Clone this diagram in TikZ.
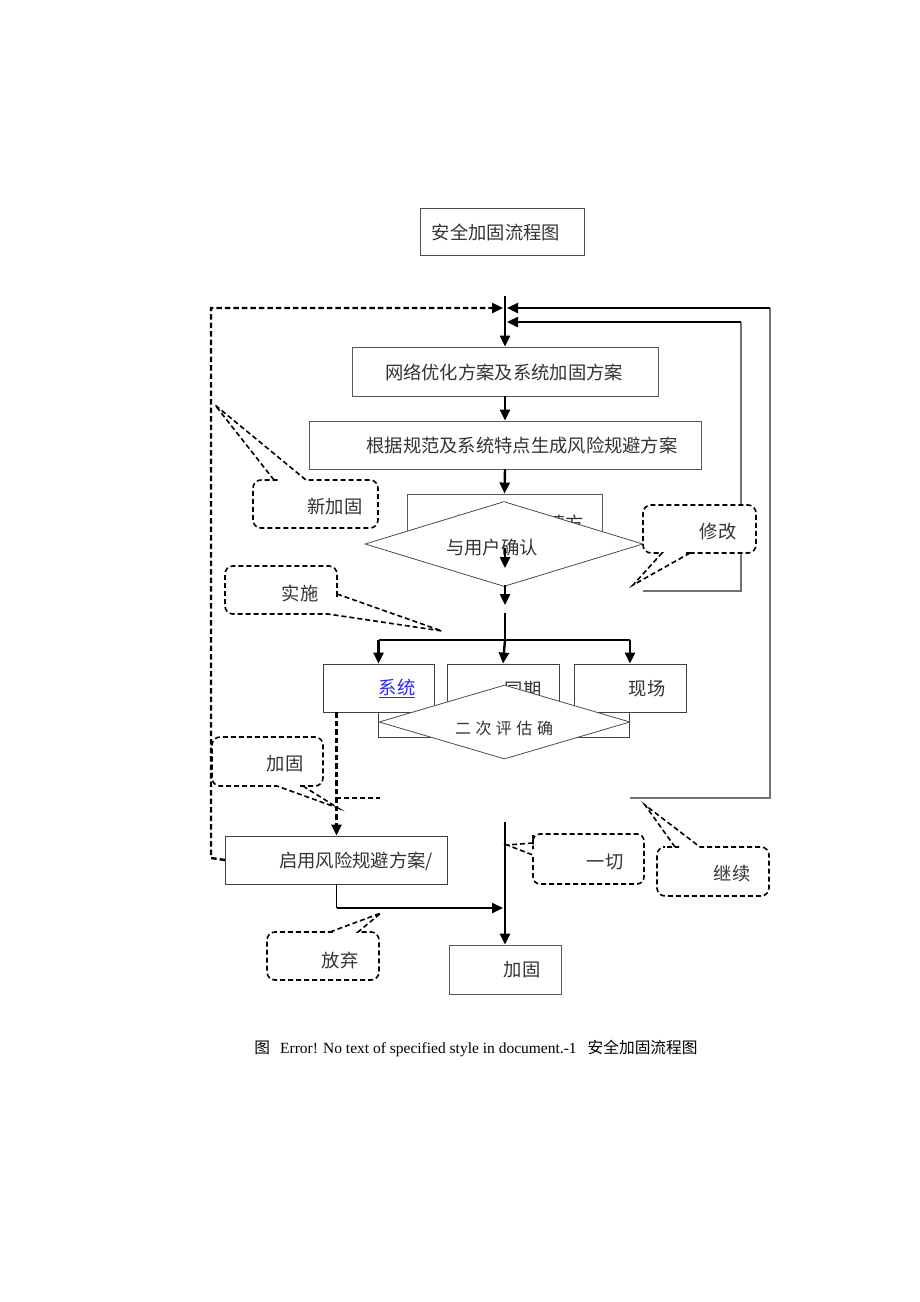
\documentclass[tikz,border=0pt]{standalone}
\usepackage{fontspec}
\setmainfont{Liberation Serif}
\newfontfamily\cjk{Noto Sans CJK SC}
\usetikzlibrary{arrows.meta,shapes.geometric}
\begin{document}
\begin{tikzpicture}[x=1pt,y=-1pt,
  box/.style={draw=black!65, line width=0.9pt, fill=white, inner sep=0pt},
  lbl/.style={font={\cjk\fontsize{18.3}{21}\selectfont}, text=black!80, inner sep=0pt},
  dia/.style={draw=black!70, line width=0.8pt, fill=white, diamond, inner sep=0pt},
  tip/.style={-{Triangle[length=11pt,width=10pt]}},
  thickln/.style={line width=2.4pt, black},
  thickarr/.style={thickln, tip},
  thinln/.style={line width=1.1pt, black!55},
  barln/.style={line width=1.2pt, black},
  dashthick/.style={line width=2.4pt, black, dash pattern=on 5.5pt off 3pt},
  callout/.style={draw=black, line width=1.6pt, dash pattern=on 5pt off 3pt, fill=white}
]
\useasboundingbox (0,0) rectangle (920,1302);

% title
\node[box, draw=black!70, minimum width=164pt, minimum height=47pt] (title) at (502,231.5) {};
\node[lbl] (titlet) at (496,232) {安全加固流程图};

% coordinates of the junction
\coordinate (T) at (505,296);
\coordinate (J1) at (505,308);
\coordinate (J2) at (505,322);

% main boxes
\node[box, minimum width=306pt, minimum height=49pt] (b1) at (505,371.5) {};
\node[lbl] (b1t) at (504,372) {网络优化方案及系统加固方案};
\node[box, minimum width=392pt, minimum height=48pt] (b2) at (505,445) {};
\node[lbl] (b2t) at (522,446) {根据规范及系统特点生成风险规避方案};
\node[box, minimum width=195pt, minimum height=51pt] (b3) at (504.5,519.5) {};
\node[lbl] (b3t) at (520,523) {提交加固申请方};

% first diamond
\node[dia, minimum width=278pt, minimum height=85pt] (d1) at (504,544) {};
\node[lbl] (d1t) at (492,548) {与用户确认};

% outer loops
\draw[thinln] (630,798) -- (770,798) -- (770,308);
\draw[thickarr] (770,308) -- (507,308);
\draw[thinln] (643,591) -- (741,591) -- (741,322);
\draw[thickarr] (741,322) -- (507,322);

% top arrows
\draw[thickarr] (T) -- (b1.north);
\draw[thickarr] (b1.south) -- (b2.north);
\draw[thickarr] (b2.south) -- (b3.north);

% arrows through the diamond
\coordinate (a1s) at (505,548);
\coordinate (a1e) at (505,568);
\coordinate (a2s) at (505,585);
\coordinate (a2e) at (505,605);
\coordinate (a3s) at (505,613);
\coordinate (B) at (505,640);
\draw[thickarr] (a1s) -- (a1e);
\draw[thickarr] (a2s) -- (a2e);
\draw[thickln] (a3s) -- (B);

% three boxes
\node[box, draw=black!75, minimum width=251pt, minimum height=25pt] (bh) at (503.5,724.5) {};
\node[box, draw=black!75, minimum width=111pt, minimum height=48pt] (sys) at (378.5,688) {};
\node[box, draw=black!75, minimum width=112pt, minimum height=48pt] (tq) at (503,688) {};
\node[box, draw=black!75, minimum width=112pt, minimum height=48pt] (xc) at (630,688) {};
\node[lbl, text={rgb,255:red,40;green,40;blue,255}] (syst) at (397,688) {\underline{系统}};
\node[lbl] (tqt) at (523,690) {同期};
\node[lbl] (xct) at (647,689) {现场};

\coordinate (BL) at (sys.north |- B);
\coordinate (BR) at (xc.north |- B);
\draw[barln] (BL) -- (BR);
\draw[thickarr] (BL) -- (sys.north);
\draw[thickarr] (B) -- (tq.north);
\draw[thickarr] (BR) -- (xc.north);

% second diamond
\node[dia, minimum width=251pt, minimum height=74pt] (d2) at (504.5,722) {};
\node[lbl, font={\cjk\fontsize{16}{20}\selectfont}] (d2t) at (504,728) {二\hspace{4.5pt}次\hspace{4.5pt}评\hspace{4.5pt}估\hspace{4.5pt}确};

% lower boxes
\node[box, draw=black!75, minimum width=222pt, minimum height=48pt] (qy) at (336.5,860) {};
\node[lbl] (qyt) at (356,861) {启用风险规避方案/};
\node[box, minimum width=112pt, minimum height=49pt] (jg) at (505,969.5) {};
\node[lbl] (jgt) at (522,970) {加固};

% dashed connectors
\draw[dashthick, tip] (qy.north |- sys.south) -- (qy.north);
\draw[black, line width=1.1pt, dash pattern=on 5pt off 3pt] (336,798) -- (380,798);
\coordinate (L1) at (211,858);
\coordinate (L2) at (211,308);
\draw[dashthick, tip] (qy.west) -- (L1) -- (L2) -- (503,308);

% bottom connectors
\coordinate (C1) at (505,822);
\draw[thickarr] (C1) -- (jg.north);
\coordinate (Q1) at (qy.south |- 0,908);
\draw[line width=1.1pt, black] (qy.south) -- (Q1);
\draw[thickarr] (Q1) -- (503,908);

% callouts
\draw[callout] (274,480) -- (215,405) -- (306,480) -- (310,480) [rounded corners=8pt] -- (378,480) -- (378,528) -- (253,528) -- (253,480) -- (270,480) [sharp corners] -- (274,480) -- cycle;
\node[lbl] (c1) at (335,507) {新加固};

\draw[callout] (690,553) -- (633,585) -- (662,553) -- (658,553) [rounded corners=8pt] -- (643,553) -- (643,505) -- (756,505) -- (756,553) -- (694,553) [sharp corners] -- (690,553) -- cycle;
\node[lbl] (c2) at (718,532) {修改};

\draw[callout] (337,594) -- (442,631) -- (328,614) -- (324,614) [rounded corners=8pt] -- (225,614) -- (225,566) -- (337,566) -- (337,590) [sharp corners] -- (337,594) -- cycle;
\node[lbl] (c3) at (300,593) {实施};

\draw[callout] (303,786) -- (338,808) -- (277,786) -- (273,786) [rounded corners=8pt] -- (212,786) -- (212,737) -- (323,737) -- (323,786) -- (307,786) [sharp corners] -- (303,786) -- cycle;
\node[lbl] (c4) at (285,764) {加固};

\draw[callout] (533,843) -- (507,845) -- (533,855) -- (533,859) [rounded corners=7pt] -- (533,884) -- (644,884) -- (644,834) -- (533,834) -- (533,842) [sharp corners] -- (533,843) -- cycle;
\node[lbl] (c5) at (605,862) {一切};

\draw[callout] (675,847) -- (645,805) -- (700,847) -- (704,847) [rounded corners=8pt] -- (769,847) -- (769,896) -- (657,896) -- (657,847) -- (671,847) [sharp corners] -- (675,847) -- cycle;
\node[lbl] (c6) at (732,874) {继续};

\draw[callout] (330,932) -- (381,913) -- (358,932) -- (362,932) [rounded corners=8pt] -- (379,932) -- (379,980) -- (267,980) -- (267,932) -- (326,932) [sharp corners] -- (330,932) -- cycle;
\node[lbl] (c7) at (340,960) {放弃};

% caption
\node[inner sep=0pt, font=\fontsize{15.5}{18}\selectfont] (cap) at (476,1048) {{\cjk\fontsize{15.7}{18}\selectfont 图}\hspace{10pt}Error! No text of specified style in document.-1\hspace{11pt}{\cjk\fontsize{15.7}{18}\selectfont 安全加固流程图}};
\end{tikzpicture}
\end{document}
